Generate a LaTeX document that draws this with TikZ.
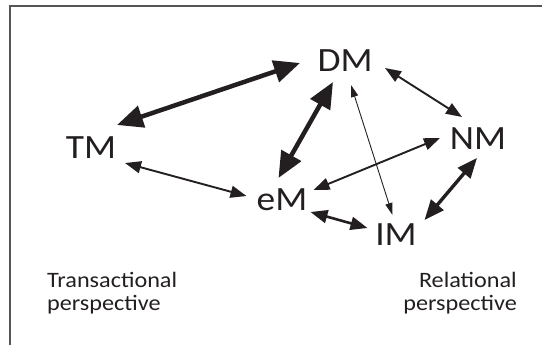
\documentclass[tikz,border=0pt]{standalone}
\usepackage{fontspec}
\setmainfont{Carlito}[FakeStretch=1.1]
\usetikzlibrary{arrows.meta,calc}
\definecolor{ink}{HTML}{231F20}
\definecolor{framegray}{HTML}{555555}
\tikzset{
  mnode/.style={text=ink,inner sep=0pt,font=\fontsize{34}{36}\selectfont},
  persp/.style={text=ink,inner sep=0pt,font=\fontsize{22}{23}\selectfont},
  heavylink/.style={draw=ink,line width=4.5pt,arrows={Triangle[length=26pt,width=22pt]-Triangle[length=26pt,width=22pt]}},
  stronglink/.style={draw=ink,line width=3.4pt,arrows={Triangle[length=20pt,width=16pt]-Triangle[length=20pt,width=16pt]}},
  midlink/.style={draw=ink,line width=2.6pt,arrows={Triangle[length=17pt,width=13pt]-Triangle[length=17pt,width=13pt]}},
  lightlink/.style={draw=ink,line width=1.9pt,arrows={Triangle[length=16pt,width=12pt]-Triangle[length=16pt,width=12pt]}},
  hairlink/.style={draw=ink,line width=0.9pt,arrows={Triangle[length=12pt,width=7pt]-Triangle[length=12pt,width=7pt]}}
}
\begin{document}
\begin{tikzpicture}[x=1pt,y=-1pt]
      \useasboundingbox (0,0) rectangle (542,345);
      \draw[framegray,line width=1.1pt] (542,6) -- (10,6) -- (10,345);
      \draw
        (91,148) node[mnode] (TM){TM}
        (345,61) node[mnode] (DM){DM}
        (282,200) node[mnode] (eM){eM}
        (396,235) node[mnode] (IM){IM}
        (478,139) node[mnode] (NM){NM};
      \node[persp,align=left,anchor=north west] (trans) at (47,272) {Transactional\\perspective};
      \node[persp,align=right,anchor=north east] (rel) at (517,272) {Relational\\perspective};
      \begin{scope}
        \draw[heavylink] ($(TM)+(26,-23)$) -- ($(DM)+(-45,2)$);
        \draw[heavylink] ($(DM)+(-12,21)$) -- ($(eM)+(-3.5,-22)$);
        \draw[hairlink] ($(DM)+(6,24)$) -- ($(IM)+(-3.5,-20)$);
        \draw[lightlink] ($(DM)+(40,7)$) -- ($(NM)+(-16,-22)$);
        \draw[lightlink] ($(TM)+(34,15)$) -- ($(eM)+(-35.5,-4)$);
        \draw[lightlink] ($(eM)+(31.5,-10)$) -- ($(NM)+(-38,-1)$);
        \draw[midlink] ($(eM)+(28.5,12)$) -- ($(IM)+(-28.5,-7)$);
        \draw[stronglink] ($(IM)+(28.5,-15)$) -- ($(NM)+(-1,19)$);
      \end{scope}
    \end{tikzpicture}
\end{document}
